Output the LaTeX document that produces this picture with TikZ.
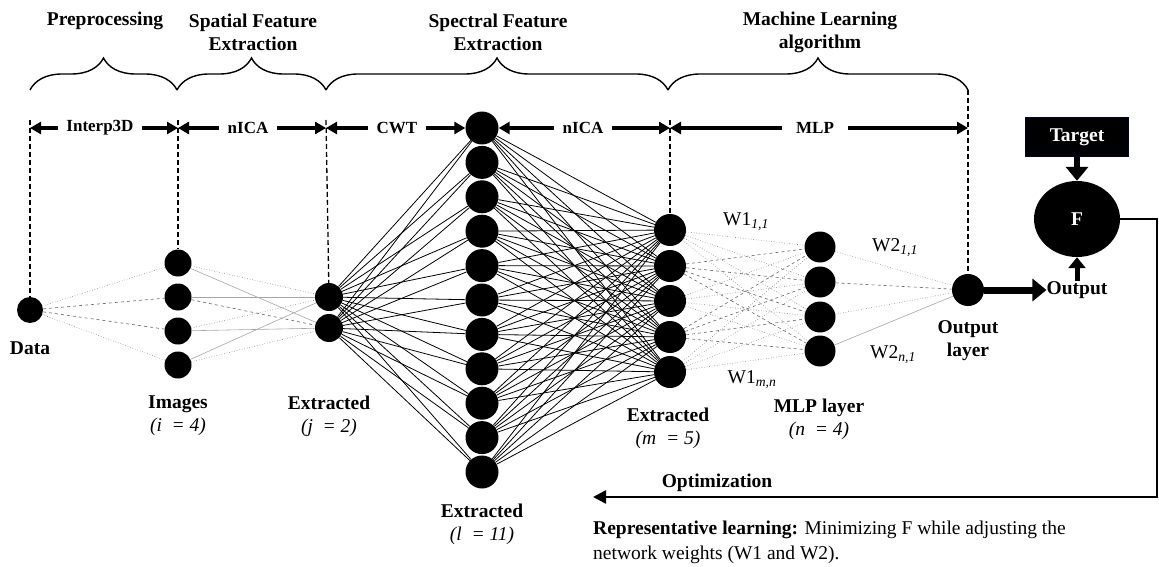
\documentclass[tikz,border=0pt]{standalone}
\usepackage{fontspec}
\setmainfont{Liberation Serif}
\usetikzlibrary{arrows.meta,decorations.pathreplacing,shapes.geometric}
\tikzset{
  neuron/.style={circle,fill=black,inner sep=0pt,minimum size=#1},
  lbl/.style={font=\fontsize{19.5}{23}\selectfont\bfseries,align=center,inner sep=0pt},
  stage/.style={font=\fontsize{17}{19}\selectfont\bfseries,inner xsep=8pt,inner ysep=0pt},
  wt/.style={font=\fontsize{19.5}{22}\selectfont,inner sep=0pt},
  span/.style={line width=3.5pt,-{Triangle[length=11pt,width=12pt]}},
  guide/.style={line width=1.3pt,dash pattern=on 5pt off 3pt},
  grp/.style={decorate,decoration={brace,amplitude=32pt},line width=1.4pt},
  faint/.style={gray,line width=0.6pt,dotted},
  faintd/.style={gray!80!black,line width=0.6pt,dashed},
  thin/.style={gray!70,line width=0.6pt},
  dense/.style={black,line width=0.8pt},
  block/.style={line width=#1,-{Triangle[length=14pt,width=22pt]}},
}
\begin{document}
\begin{tikzpicture}[x=1pt,y=-1pt]
\useasboundingbox (0,0) rectangle (1159,567);

% stage headings
\node[lbl] (h0) at (105,21) {Preprocessing};
\node[lbl] (h1) at (253,32) {Spatial Feature\\Extraction};
\node[lbl] (h2) at (498,32) {Spectral Feature\\Extraction};
\node[lbl] (h3) at (820,32) {Machine Learning\\algorithm};
\draw[grp] (30,90) -- (177,90);
\draw[grp] (177,90) -- (326,90);
\draw[grp] (326,90) -- (668,90);
\draw[grp] (668,90) -- (968,90);

% layers
\node[neuron=26pt] (d0) at (30,310) {};
\node[neuron=27pt] (i1) at (178,263) {};
\node[neuron=27pt] (i2) at (178,297) {};
\node[neuron=27pt] (i3) at (178,331) {};
\node[neuron=27pt] (i4) at (178,365) {};
\node[neuron=28pt] (j1) at (329,297) {};
\node[neuron=28pt] (j2) at (329,328) {};
\foreach \k in {1,...,11}
  \node[neuron=33pt] (l\k) at (482,{128+34.4*(\k-1)}) {};
\node[neuron=32pt] (m1) at (670,230) {};
\node[neuron=32pt] (m2) at (670,266) {};
\node[neuron=32pt] (m3) at (670,301) {};
\node[neuron=32pt] (m4) at (670,337) {};
\node[neuron=32pt] (m5) at (670,372) {};
\node[neuron=31pt] (n1) at (820,247) {};
\node[neuron=31pt] (n2) at (820,282) {};
\node[neuron=31pt] (n3) at (820,317) {};
\node[neuron=31pt] (n4) at (820,351) {};
\node[neuron=32pt] (out) at (968,290) {};

% connections
\foreach \b/\s in {1/faint,2/faintd,3/faintd,4/faint}
  \draw[\s] (d0) -- (i\b);
\foreach \a/\b/\s in {1/1/faint,1/2/thin,2/1/thin,2/2/faintd,3/1/faint,3/2/thin,4/1/thin,4/2/faint}
  \draw[\s] (i\a) -- (j\b);
\foreach \a in {1,2}
  \foreach \b in {1,...,11}
    \draw[dense] (j\a) -- (l\b);
\foreach \a in {1,...,11}
  \foreach \b in {1,...,5}
    \draw[dense] (l\a) -- (m\b);
\foreach \a in {1,3,5}
  \foreach \b in {1,...,4}
    \draw[faint] (m\a) -- (n\b);
\foreach \a in {2,4}
  \foreach \b in {1,...,4}
    \draw[faintd] (m\a) -- (n\b);
\draw[faint] (n1) -- (out);
\draw[faintd] (n2) -- (out);
\draw[faint] (n3) -- (out);
\draw[thin] (n4) -- (out);

% stage boundaries
\coordinate (g0) at (30,120);
\coordinate (g1) at (178,120);
\coordinate (g2) at (326,120);
\coordinate (g3) at (670,120);
\coordinate (g4) at (968,90);
\draw[guide] (g0) -- (d0);
\draw[guide] (g1) -- (i1);
\draw[guide] (g2) -- (j1);
\draw[guide] (g3) -- (m1);
\draw[guide] (g4) -- (out);

% operations
\coordinate (p0) at (30,128);
\coordinate (p1) at (178,128);
\coordinate (p2) at (326,128);
\coordinate (p3) at (670,128);
\coordinate (p4) at (968,128);
\node[stage] (s0) at (100,128) {Interp3D};
\node[stage] (s1) at (248,128) {nICA};
\node[stage] (s2) at (397,128) {CWT};
\node[stage] (s3) at (583,128) {nICA};
\node[stage,inner xsep=14pt] (s4) at (815,128) {MLP};
\draw[span] (s0) -- (p0);
\draw[span] (s0) -- (p1);
\draw[span] (s1) -- (p1);
\draw[span] (s1) -- (p2);
\draw[span] (s2) -- (p2);
\draw[span] (s2) -- (l1);
\draw[span] (s3) -- (l1);
\draw[span] (s3) -- (p3);
\draw[span] (s4) -- (p3);
\draw[span] (s4) -- (p4);

% weights
\node[wt] (w1a) at (746,222) {W1\textsubscript{\itshape 1,1}};
\node[wt] (w1b) at (752,380) {W1\textsubscript{\itshape m,n}};
\node[wt] (w2a) at (895,248) {W2\textsubscript{\itshape 1,1}};
\node[wt] (w2b) at (893,355) {W2\textsubscript{\itshape n,1}};

% layer names
\node[lbl] (t0) at (30,348) {Data};
\node[lbl] (t1) at (178,416) {Images\\{\normalfont\itshape (i\ \ = 4)}};
\node[lbl] (t2) at (329,416) {Extracted\\{\normalfont\itshape (j\ \ = 2)}};
\node[lbl] (t3) at (482,524) {Extracted\\{\normalfont\itshape (l\ \ = 11)}};
\node[lbl] (t4) at (668,428) {Extracted\\{\normalfont\itshape (m\ \ = 5)}};
\node[lbl] (t5) at (819,419) {MLP layer\\{\normalfont\itshape (n\ \ = 4)}};
\node[lbl] (t6) at (968,341) {Output\\layer};

% loss
\node[fill=black,draw=blue!25!black,line width=1pt,minimum width=103pt,minimum height=39pt,
  text=white,font=\fontsize{19.5}{22}\selectfont\bfseries] (tg) at (1077,137) {Target};
\node[ellipse,fill=black,minimum width=86pt,minimum height=76pt,inner sep=0pt,
  text=white,font=\fontsize{19.5}{22}\selectfont\bfseries] (F) at (1077,219) {F};
\node[lbl] (res) at (1077,290) {Output};
\draw[block=6pt] (tg) -- (F);
\draw[line width=5pt,-{Triangle[length=11pt,width=17pt]}] (res) -- (F);
\draw[block=7pt] (out) -- (res);

% feedback
\coordinate (rb) at (1157,497);
\coordinate (ob) at (593,497);
\draw[line width=2.5pt,-{Triangle[length=13pt,width=13pt]}] (F.east) -- (F.east -| rb) -- (rb) -- (ob);
\node[lbl] (opt) at (717,483) {Optimization};
\node[font=\fontsize{19.5}{25}\selectfont,align=left,anchor=north west,inner sep=0pt] (rl) at (593,521)
  {\textbf{Representative learning:} Minimizing F while adjusting the\\network weights (W1 and W2).};
\end{tikzpicture}
\end{document}
